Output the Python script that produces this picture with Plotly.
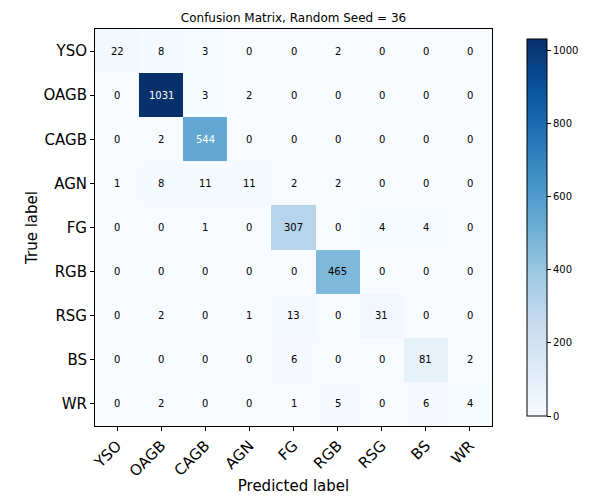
import plotly.graph_objects as go

labels = ["YSO", "OAGB", "CAGB", "AGN", "FG", "RGB", "RSG", "BS", "WR"]
matrix = [
    [22, 8, 3, 0, 0, 2, 0, 0, 0],
    [0, 1031, 3, 2, 0, 0, 0, 0, 0],
    [0, 2, 544, 0, 0, 0, 0, 0, 0],
    [1, 8, 11, 11, 2, 2, 0, 0, 0],
    [0, 0, 1, 0, 307, 0, 4, 4, 0],
    [0, 0, 0, 0, 0, 465, 0, 0, 0],
    [0, 2, 0, 1, 13, 0, 31, 0, 0],
    [0, 0, 0, 0, 6, 0, 0, 81, 2],
    [0, 2, 0, 0, 1, 5, 0, 6, 4],
]
cbar_ticks = [0, 200, 400, 600, 800, 1000]

blues = ["rgb(247,251,255)", "rgb(222,235,247)", "rgb(198,219,239)", "rgb(158,202,225)",
         "rgb(107,174,214)", "rgb(66,146,198)", "rgb(33,113,181)", "rgb(8,81,156)", "rgb(8,48,107)"]
colorscale = [[i / (len(blues) - 1), c] for i, c in enumerate(blues)]

zmax = max(max(r) for r in matrix)
font = "DejaVu Sans"

fig = go.Figure(go.Heatmap(
    z=matrix, x=labels, y=labels, colorscale=colorscale, zmin=0, zmax=zmax,
    xgap=0, ygap=0, hoverinfo="skip",
    colorbar=dict(
        x=(527 - 95) / 397, xanchor="left", xpad=0, y=0.5, yanchor="middle",
        len=1, lenmode="fraction", thickness=20, thicknessmode="pixels",
        outlinecolor="black", outlinewidth=1,
        tickvals=cbar_ticks, ticks="outside", ticklen=4, tickcolor="black",
        tickfont=dict(family=font, size=10, color="black"),
    ),
))

annotations = []
for i, row in enumerate(matrix):
    for j, v in enumerate(row):
        annotations.append(dict(
            x=labels[j], y=labels[i], text=str(v), showarrow=False,
            font=dict(family=font, size=10, color="white" if v > zmax / 2 else "black"),
        ))

fig.update_layout(
    width=600, height=504,
    margin=dict(l=95, r=108, t=29, b=78, autoexpand=False),
    paper_bgcolor="white", plot_bgcolor="white",
    title=dict(text="Confusion Matrix, Random Seed = 36", x=(95 + 492) / 2 / 600, xanchor="center",
               y=1 - 18 / 504, yanchor="middle", font=dict(family=font, size=12, color="black")),
    annotations=annotations,
    xaxis=dict(
        tickangle=-45, tickfont=dict(family=font, size=15, color="black"),
        ticks="outside", ticklen=4, tickcolor="black", automargin=False,
        showline=True, linecolor="black", linewidth=1, mirror=True, showgrid=False, zeroline=False,
        title=dict(text="Predicted label", font=dict(family=font, size=15, color="black"), standoff=1),
    ),
    yaxis=dict(
        autorange="reversed", tickfont=dict(family=font, size=15, color="black"),
        ticks="outside", ticklen=4, tickcolor="black", automargin=False,
        showline=True, linecolor="black", linewidth=1, mirror=True, showgrid=False, zeroline=False,
        title=dict(text="True label", font=dict(family=font, size=15, color="black"), standoff=2),
    ),
)

fig.write_html("out.html", config={"displayModeBar": False},
               post_script="document.body.style.margin='0';document.body.style.overflow='hidden';")
